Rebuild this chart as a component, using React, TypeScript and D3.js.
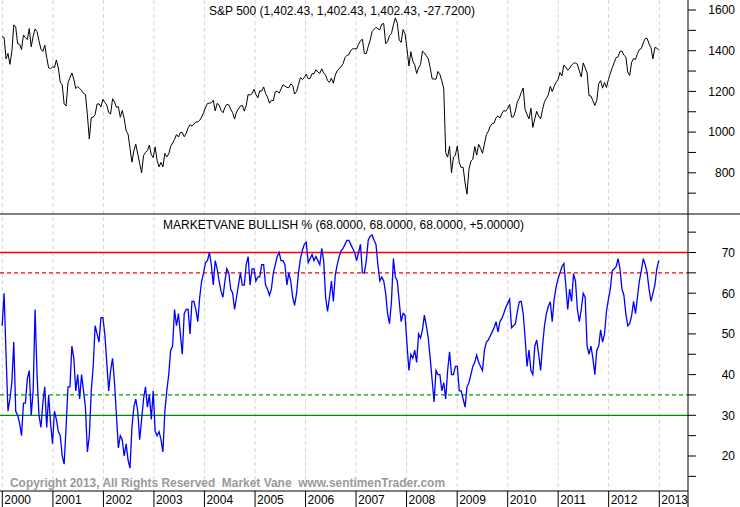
import * as d3 from "d3";

// S&P 500 closes, one point every two weeks from 1999-12-31 to 2012-12-28
const sp2000 = [1469, 1465, 1360, 1387, 1333, 1395, 1527, 1516, 1434, 1432, 1406, 1477, 1464, 1455, 1509, 1419, 1471, 1507, 1494, 1449, 1408, 1396, 1427, 1367, 1315, 1312, 1320];
const sp2001 = [1318, 1354, 1315, 1245, 1233, 1139, 1128, 1242, 1267, 1291, 1260, 1214, 1224, 1215, 1205, 1190, 1185, 1085, 966, 1071, 1073, 1087, 1138, 1139, 1124, 1161];
const sp2002 = [1146, 1133, 1096, 1089, 1164, 1148, 1122, 1125, 1073, 1106, 1067, 1007, 990, 921, 852, 908, 940, 893, 846, 800, 885, 900, 910, 936, 889, 875];
const sp2003 = [927, 861, 829, 851, 829, 895, 878, 893, 930, 946, 964, 988, 976, 998, 998, 977, 993, 1021, 1036, 1029, 1039, 1050, 1050, 1058, 1074, 1095];
const sp2004 = [1122, 1141, 1142, 1144, 1156, 1104, 1141, 1134, 1107, 1095, 1121, 1136, 1134, 1112, 1096, 1064, 1099, 1114, 1128, 1131, 1103, 1130, 1185, 1182, 1189, 1210];
const sp2005 = [1186, 1168, 1203, 1201, 1222, 1190, 1172, 1142, 1157, 1154, 1198, 1201, 1191, 1212, 1233, 1226, 1220, 1218, 1237, 1229, 1187, 1199, 1234, 1268, 1259, 1268];
const sp2006 = [1285, 1262, 1264, 1287, 1287, 1307, 1295, 1289, 1311, 1291, 1280, 1253, 1245, 1265, 1240, 1280, 1302, 1311, 1322, 1336, 1366, 1377, 1380, 1401, 1409, 1410];
const sp2007 = [1409, 1431, 1449, 1456, 1387, 1386, 1421, 1452, 1494, 1505, 1515, 1507, 1503, 1530, 1534, 1434, 1445, 1474, 1484, 1527, 1561, 1535, 1453, 1441, 1504, 1484];
const sp2008 = [1411, 1325, 1395, 1349, 1331, 1288, 1316, 1332, 1398, 1389, 1375, 1361, 1317, 1262, 1261, 1260, 1298, 1283, 1252, 1213, 899, 877, 930, 800, 876, 887];
const sp2009 = [932, 850, 826, 827, 750, 695, 816, 857, 866, 929, 887, 940, 921, 896, 941, 987, 1004, 1029, 1042, 1044, 1071, 1080, 1069, 1091, 1106, 1102];
const sp2010 = [1115, 1136, 1074, 1075, 1104, 1150, 1167, 1194, 1217, 1111, 1087, 1065, 1117, 1023, 1065, 1102, 1079, 1065, 1110, 1149, 1166, 1183, 1225, 1199, 1225, 1244, 1258];
const sp2011 = [1293, 1276, 1329, 1320, 1304, 1314, 1329, 1338, 1340, 1333, 1300, 1271, 1340, 1316, 1292, 1179, 1177, 1154, 1131, 1155, 1238, 1253, 1216, 1244, 1219, 1258];
const sp2012 = [1289, 1316, 1342, 1366, 1370, 1397, 1398, 1378, 1369, 1295, 1278, 1343, 1362, 1357, 1386, 1406, 1411, 1438, 1460, 1461, 1433, 1414, 1360, 1416, 1413, 1402.43];

// Market Vane bullish %, same dates
const bull2000 = [52, 60, 45, 31, 34, 38, 48, 31, 30, 28, 25, 33, 33, 39, 41, 30, 36, 56, 40, 30, 27, 33, 37, 27, 35, 28, 23];
const bull2001 = [31, 29, 26, 25, 20, 18, 27, 37, 37, 47, 44, 36, 40, 34, 40, 36, 32, 21, 25, 36, 42, 52, 50, 48, 54, 54];
const bull2002 = [50, 43, 36, 41, 44, 38, 30, 22, 25, 24, 20, 23, 19, 17, 27, 32, 34, 31, 24, 29, 34, 37, 32, 35, 29, 36];
const bull2003 = [26, 25, 26, 24, 21, 31, 36, 40, 46, 47, 56, 52, 55, 50, 45, 55, 56, 56, 50, 58, 58, 56, 53, 59, 63, 65];
const bull2004 = [67.5, 68, 70, 67, 62, 68, 66, 63, 60.5, 59, 63, 66, 65, 61, 60, 56, 59, 62, 65, 62, 62, 67, 69, 62, 66, 66];
const bull2005 = [63, 64, 64, 67, 67, 62, 61, 59.5, 61, 65, 67, 69, 70, 68, 68, 67, 62, 65, 63, 59, 57, 60, 65, 68.5, 70.5, 72];
const bull2006 = [72.5, 67.5, 68.5, 69.5, 68, 69, 68, 67, 71, 68, 59, 55.5, 59, 63, 58, 64.5, 67, 69, 70.5, 71, 72, 73, 73, 72, 71, 70];
const bull2007 = [68, 70, 72, 65, 65, 68, 73, 74, 74.3, 73, 72, 67, 63, 64, 63, 60, 55, 52.5, 58, 68.5, 64, 63, 58, 53, 55, 54.6];
const bull2008 = [47.6, 41, 45, 44, 46, 43, 50, 49, 51, 54.6, 52, 49, 44, 38.6, 33.3, 41, 40, 40, 36, 38, 34, 41, 45.6, 40, 40, 42];
const bull2009 = [42, 36, 36, 34, 32, 37, 38, 40, 42, 43, 44.8, 43, 42, 41, 46, 48, 48.5, 49.5, 50.5, 51.5, 53, 50.5, 53, 53.8, 55, 56.5];
const bull2010 = [57.5, 58.5, 51.5, 52, 52.5, 55.5, 57.9, 58, 55, 49, 42, 46, 41, 40, 47, 48.5, 45, 41, 47, 52, 55, 56.8, 57.9, 53, 58.5, 61.5, 63.5];
const bull2011 = [65, 66.5, 67.3, 62, 56, 61, 58, 64.8, 63, 56, 53, 56, 60, 59, 47, 45, 47, 44, 40, 46, 47, 51, 48, 50, 55.5, 58.5];
const bull2012 = [61, 65.5, 66, 66.5, 68.5, 66, 61, 59.5, 55, 52, 52.5, 54.5, 58, 55, 59, 63, 65.5, 68.5, 67, 65, 61, 58, 60, 62, 66, 68];

const spTicks = [700, 800, 900, 1000, 1100, 1200, 1300, 1400, 1500, 1600];
const spLabels = [800, 1000, 1200, 1400, 1600];
const bullTicks = [15, 20, 25, 30, 35, 40, 45, 50, 55, 60, 65, 70, 75];
const bullLabels = [20, 30, 40, 50, 60, 70];
const years = [2000, 2001, 2002, 2003, 2004, 2005, 2006, 2007, 2008, 2009, 2010, 2011, 2012, 2013];

const spTitle = "S&P 500 (1,402.43, 1,402.43, 1,402.43, -27.7200)";
const bullTitle = "MARKETVANE BULLISH % (68.0000, 68.0000, 68.0000, +5.00000)";
const copyright = "Copyright 2013, All Rights Reserved  Market Vane  www.sentimenTrader.com";

const W = 740;
const H = 507;
const axisX = 688;
const splitY = 214;
const bottomY = 491;
const font = "'Liberation Sans', Arial, sans-serif";

export default function App() {
  const sp = [sp2000, sp2001, sp2002, sp2003, sp2004, sp2005, sp2006, sp2007, sp2008, sp2009, sp2010, sp2011, sp2012].flat();
  const bull = [bull2000, bull2001, bull2002, bull2003, bull2004, bull2005, bull2006, bull2007, bull2008, bull2009, bull2010, bull2011, bull2012].flat();
  const start = new Date(1999, 11, 31);
  const dates = sp.map((_, i) => d3.timeDay.offset(start, i * 14));

  const x = d3
    .scaleTime()
    .domain([new Date(2000, 0, 1), new Date(2013, 0, 1)])
    .range([2.3, 659.3]);
  const ySp = d3.scaleLinear().domain([800, 1600]).range([172.8, 10]);
  const yBull = d3.scaleLinear().domain([30, 70]).range([415.3, 252.5]);

  const spLine = d3
    .line<number>()
    .x((_, i) => x(dates[i]))
    .y((d) => ySp(d));
  const bullLine = d3
    .line<number>()
    .x((_, i) => x(dates[i]))
    .y((d) => yBull(d));

  const refLines = [
    { v: 70, color: "#ff0000", dash: undefined },
    { v: 65, color: "#ff0000", dash: "4,3" },
    { v: 35, color: "#00a000", dash: "4,3" },
    { v: 30, color: "#008a00", dash: undefined },
  ];

  return (
    <svg
      width={W}
      height={H}
      style={{ position: "absolute", left: 0, top: 0, background: "#fff" }}
      fontFamily={font}
    >
      <defs>
        <clipPath id="topClip">
          <rect x={0} y={0} width={axisX} height={splitY} />
        </clipPath>
        <clipPath id="botClip">
          <rect x={0} y={splitY} width={axisX} height={bottomY - splitY} />
        </clipPath>
      </defs>
      <rect width={W} height={H} fill="#fff" />

      {years.map((yr) => (
        <line
          key={"g" + yr}
          x1={x(new Date(yr, 0, 1))}
          x2={x(new Date(yr, 0, 1))}
          y1={0}
          y2={bottomY}
          stroke="#d4d4d4"
          strokeDasharray="4,3"
        />
      ))}

      <text x={209} y={14.5} fontSize={12} fill="#000">
        {spTitle}
      </text>
      <text x={163} y={229} fontSize={12} fill="#000">
        {bullTitle}
      </text>

      {refLines.map((r) => (
        <line
          key={"r" + r.v}
          x1={0}
          x2={axisX}
          y1={yBull(r.v)}
          y2={yBull(r.v)}
          stroke={r.color}
          strokeWidth={1.3}
          strokeDasharray={r.dash}
        />
      ))}

      <text
        x={10}
        y={486.5}
        fontSize={12}
        fontWeight="bold"
        fill="#9a9a9a"
        textLength={435}
        lengthAdjust="spacingAndGlyphs"
        style={{ whiteSpace: "pre" }}
      >
        {copyright}
      </text>

      <g clipPath="url(#topClip)">
        <path d={spLine(sp) ?? ""} fill="none" stroke="#000" strokeWidth={1} />
      </g>
      <g clipPath="url(#botClip)">
        <path d={bullLine(bull) ?? ""} fill="none" stroke="#0000ff" strokeWidth={1.3} />
      </g>

      {/* frame */}
      <line x1={0} x2={W} y1={splitY} y2={splitY} stroke="#000" />
      <line x1={0} x2={axisX} y1={bottomY} y2={bottomY} stroke="#000" />
      <line x1={axisX} x2={axisX} y1={0} y2={H} stroke="#000" />

      {/* right axis, top panel */}
      {spTicks.map((t) => (
        <line key={"st" + t} x1={axisX} x2={axisX + 8} y1={ySp(t)} y2={ySp(t)} stroke="#000" />
      ))}
      {spLabels.map((t) => (
        <text key={"sl" + t} x={735} y={ySp(t)} dy="0.36em" textAnchor="end" fontSize={12} fill="#000">
          {t}
        </text>
      ))}

      {/* right axis, bottom panel */}
      {bullTicks.map((t) => (
        <line key={"bt" + t} x1={axisX} x2={axisX + 8} y1={yBull(t)} y2={yBull(t)} stroke="#000" />
      ))}
      {bullLabels.map((t) => (
        <text key={"bl" + t} x={735} y={yBull(t)} dy="0.36em" textAnchor="end" fontSize={12} fill="#000">
          {t}
        </text>
      ))}

      {/* year axis */}
      {years.map((yr) => (
        <g key={"y" + yr}>
          <line
            x1={x(new Date(yr, 0, 1))}
            x2={x(new Date(yr, 0, 1))}
            y1={bottomY}
            y2={H}
            stroke="#000"
          />
          <text x={x(new Date(yr, 0, 1)) + 2} y={503.5} fontSize={12} fill="#000">
            {yr}
          </text>
        </g>
      ))}
    </svg>
  );
}
